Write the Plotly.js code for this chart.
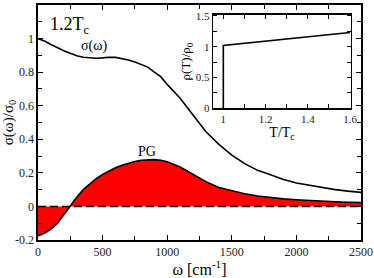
<!DOCTYPE html>
<html><head><meta charset="utf-8">
<script src="https://cdn.plot.ly/plotly-3.0.1.min.js"></script>
<style>html,body{margin:0;padding:0;background:#fff;}#chart{width:374px;height:278px;}</style>
</head><body><div id="chart"></div>
<script>
const omega = [0, 50, 100, 150, 200, 250, 300, 350, 400, 450, 500, 550, 600, 650, 700, 750, 800, 850, 900, 950, 1000, 1100, 1200, 1300, 1400, 1500, 1600, 1700, 1800, 1900, 2000, 2100, 2200, 2300, 2400, 2500];
const sigma = [1.0, 0.985, 0.965, 0.945, 0.928, 0.912, 0.898, 0.889, 0.885, 0.883, 0.885, 0.889, 0.888, 0.882, 0.872, 0.86, 0.845, 0.83, 0.80, 0.773, 0.727, 0.645, 0.545, 0.445, 0.37, 0.305, 0.255, 0.215, 0.188, 0.16, 0.14, 0.126, 0.112, 0.1, 0.091, 0.084];
const pg = [-0.175, -0.16, -0.135, -0.1, -0.05, 0.005, 0.055, 0.1, 0.135, 0.165, 0.19, 0.212, 0.23, 0.246, 0.258, 0.268, 0.275, 0.279, 0.279, 0.275, 0.266, 0.235, 0.192, 0.147, 0.113, 0.092, 0.075, 0.062, 0.052, 0.045, 0.04, 0.035, 0.031, 0.028, 0.025, 0.023];
const zeroX = [0, 2500];
const zeroY = [0, 0];
const insetT = [1, 1, 1.6];
const insetRho = [0, 1.02, 1.23];
const xTicks = [0, 500, 1000, 1500, 2000, 2500];
const yTicks = [-0.2, 0, 0.2, 0.4, 0.6, 0.8, 1, 1.2];
const yTickText = ['-0.2', '0', '0.2', '0.4', '0.6', '0.8', '1', '1.2'];
const insetXTicks = [1, 1.2, 1.4, 1.6];
const insetYTicks = [0, 0.5, 1, 1.5];
const insetYTickText = ['0', '0.5', '1', '1.5'];

const serif = 'Liberation Serif';
const traces = [
  {x: omega, y: pg, type: 'scatter', mode: 'lines', fill: 'tozeroy', fillcolor: '#ff0000', line: {color: '#000', width: 1.6}, xaxis: 'x', yaxis: 'y', hoverinfo: 'skip'},
  {x: zeroX, y: zeroY, type: 'scatter', mode: 'lines', line: {color: '#000', width: 1.6, dash: '8px,4px'}, xaxis: 'x', yaxis: 'y', hoverinfo: 'skip'},
  {x: omega, y: sigma, type: 'scatter', mode: 'lines', line: {color: '#000', width: 1.6}, xaxis: 'x', yaxis: 'y', hoverinfo: 'skip'},
  {x: insetT, y: insetRho, type: 'scatter', mode: 'lines', line: {color: '#000', width: 1.6}, xaxis: 'x2', yaxis: 'y2', hoverinfo: 'skip'}
];
const axCommon = {showline: true, linecolor: '#000', linewidth: 1.6, mirror: 'allticks', ticks: 'inside', ticklen: 5, tickwidth: 1, tickcolor: '#000', showgrid: false, zeroline: false, tickfont: {family: serif, size: 12, color: '#222'}};
const layout = {
  width: 374, height: 278,
  margin: {l: 38, r: 13, t: 5, b: 38},
  paper_bgcolor: '#fff', plot_bgcolor: '#fff',
  showlegend: false,
  font: {family: serif, color: '#000'},
  xaxis: Object.assign({}, axCommon, {domain: [0, 1], range: [0, 2500], tickvals: xTicks, minor: {dtick: 250, ticks: 'inside', ticklen: 4, tickcolor: '#000', tickwidth: 1}, title: {text: 'ω [cm<sup>-1</sup>]', font: {family: serif, size: 16}, standoff: 3}}),
  yaxis: Object.assign({}, axCommon, {domain: [0, 1], range: [-0.2, 1.2], tickvals: yTicks, ticktext: yTickText, minor: {dtick: 0.1, ticks: 'inside', ticklen: 4, tickcolor: '#000', tickwidth: 1}, title: {text: 'σ(ω)/σ<sub>0</sub>', font: {family: serif, size: 15}, standoff: 2}}),
  xaxis2: Object.assign({}, axCommon, {domain: [0.543, 0.968], anchor: 'y2', range: [0.953, 1.603], tickvals: insetXTicks, ticklen: 4, minor: {dtick: 0.1, tick0: 1, ticks: 'inside', ticklen: 4, tickcolor: '#000', tickwidth: 1}, tickfont: {family: serif, size: 11, color: '#222'}, title: {text: 'T/T<sub>c</sub>', font: {family: serif, size: 14}, standoff: 2}}),
  yaxis2: Object.assign({}, axCommon, {domain: [0.56, 0.959], anchor: 'x2', range: [0, 1.52], tickvals: insetYTicks, ticktext: insetYTickText, ticklen: 4, minor: {dtick: 0.25, ticks: 'inside', ticklen: 4, tickcolor: '#000', tickwidth: 1}, tickfont: {family: serif, size: 11, color: '#222'}, title: {text: 'ρ(T)/ρ<sub>0</sub>', font: {family: serif, size: 13}, standoff: 2}}),
  annotations: [
    {xref: 'paper', yref: 'paper', x: 0.03, y: 0.97, xanchor: 'left', yanchor: 'top', text: '1.2T<sub>c</sub>', showarrow: false, font: {family: serif, size: 18, color: '#000'}},
    {xref: 'x', yref: 'y', x: 435, y: 0.955, text: 'σ(ω)', showarrow: false, font: {family: serif, size: 14, color: '#000'}},
    {xref: 'x', yref: 'y', x: 845, y: 0.33, text: 'PG', showarrow: false, font: {family: serif, size: 14, color: '#000'}}
  ]
};
Plotly.newPlot('chart', traces, layout, {staticPlot: true, displayModeBar: false});
</script></body></html>
